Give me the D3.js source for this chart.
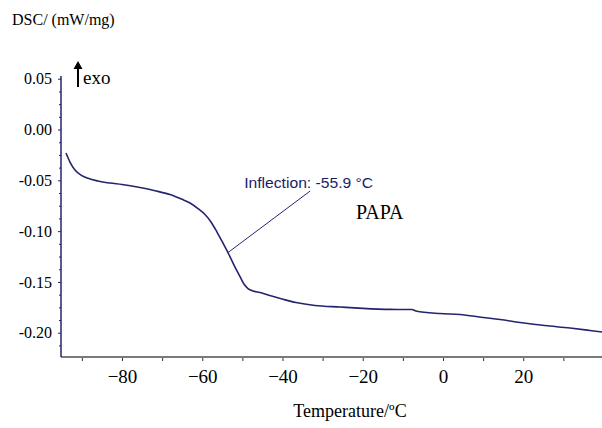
<!DOCTYPE html>
<html>
<head>
<meta charset="utf-8">
<script src="https://cdn.jsdelivr.net/npm/d3@7/dist/d3.min.js"></script>
<style>
  html, body { margin: 0; padding: 0; background: #fff; }
  svg { display: block; }
</style>
</head>
<body>
<svg id="chart" width="602" height="428"></svg>
<script>
// ---- Data ----
const temperature = [
  -93.96, -92.96, -91.71, -90.22, -88.47, -85.98, -82.99, -80.0, -75.51, -71.78,
  -68.04, -65.05, -63.05, -61.06, -59.31, -57.82, -56.32, -54.83, -53.58, -52.09,
  -50.59, -49.60, -48.60, -47.35, -45.61, -43.61, -40.12, -36.64, -31.90,
  -25.67, -19.94, -13.21, -7.73, -6.73, -0.75, 4.24, 9.97, 14.21, 19.19,
  25.42, 31.65, 36.64, 39.63
];
const dsc = [
  -0.0231, -0.0320, -0.0399, -0.0448, -0.0480, -0.0507, -0.0527, -0.0541, -0.0571, -0.0602,
  -0.0640, -0.0687, -0.0723, -0.0778, -0.0837, -0.0910, -0.1009, -0.1117, -0.1211, -0.1334,
  -0.1447, -0.1521, -0.1565, -0.1590, -0.1604, -0.1629, -0.1668, -0.1703, -0.1732,
  -0.1747, -0.1760, -0.1770, -0.1772, -0.1786, -0.1811, -0.1821, -0.1850, -0.1870, -0.1900,
  -0.1929, -0.1954, -0.1978, -0.1993
];
const xTickValues = [-80, -60, -40, -20, 0, 20];
const xMinorTicks = [-90, -70, -50, -30, -10, 10, 30];
const yTickValues = [0.05, 0.00, -0.05, -0.10, -0.15, -0.20];
const yTickLabels = ["0.05", "0.00", "-0.05", "-0.10", "-0.15", "-0.20"];
const yMinorTicks = [0.0375, 0.025, 0.0125, -0.0125, -0.025, -0.0375, -0.0625, -0.075, -0.0875,
  -0.1125, -0.125, -0.1375, -0.1625, -0.175, -0.1875, -0.2125];
const inflection = { label: "Inflection: -55.9 °C", T: -53.58, v: -0.1211, labelT: -33.1, labelV: -0.0605 };
const sampleName = "PAPA";
const yTitle = "DSC/ (mW/mg)";
const xTitle = "Temperature/ºC";
const exoLabel = "exo";

// ---- Layout ----
const svg = d3.select("#chart");
const x = d3.scaleLinear().domain([-95.2, 39.63]).range([61, 602]);
const y = d3.scaleLinear().domain([-0.2239, 0.0527]).range([357, 76]);
const navy = "#24246e";
const serif = "'Liberation Serif', 'Times New Roman', serif";
const sans = "'Liberation Sans', Arial, sans-serif";

// x axis (grey baseline, ticks below)
svg.append("line")
  .attr("x1", x.range()[0]).attr("x2", x.range()[1])
  .attr("y1", 357).attr("y2", 357)
  .attr("stroke", "#7a7a7a").attr("stroke-width", 2);
const xAxis = svg.append("g").attr("transform", "translate(0,358)")
  .call(d3.axisBottom(x).tickValues(xTickValues).tickSize(3).tickPadding(9).tickFormat(d3.format("d")));
xAxis.select(".domain").remove();
xAxis.selectAll(".tick line").attr("stroke", "#333");
xAxis.selectAll("text").attr("font-family", serif).attr("font-size", 19).attr("fill", "#000");
const xMinor = svg.append("g").attr("transform", "translate(0,358)")
  .call(d3.axisBottom(x).tickValues(xMinorTicks).tickSize(3).tickFormat(""));
xMinor.select(".domain").remove();
xMinor.selectAll(".tick line").attr("stroke", "#333");

// y axis (navy line, ticks to the left)
const yAxis = svg.append("g").attr("transform", "translate(61,0)")
  .call(d3.axisLeft(y).tickValues(yTickValues).tickSize(3).tickPadding(6)
    .tickFormat((d, i) => yTickLabels[i]));
yAxis.select(".domain").attr("stroke", navy).attr("stroke-width", 1.5)
  .attr("d", `M0,${y.range()[1]}V${y.range()[0]}`);
yAxis.selectAll(".tick line").attr("stroke", navy);
yAxis.selectAll("text").attr("font-family", serif).attr("font-size", 16).attr("fill", "#000");
const yMinor = svg.append("g").attr("transform", "translate(61,0)")
  .call(d3.axisLeft(y).tickValues(yMinorTicks).tickSize(2).tickFormat(""));
yMinor.select(".domain").remove();
yMinor.selectAll(".tick line").attr("stroke", navy);

// curve
const pts = temperature.map((t, i) => [t, dsc[i]]);
svg.append("path")
  .datum(pts)
  .attr("fill", "none")
  .attr("stroke", navy)
  .attr("stroke-width", 1.6)
  .attr("d", d3.line().x(d => x(d[0])).y(d => y(d[1])).curve(d3.curveMonotoneX));

// inflection annotation
svg.append("line")
  .attr("x1", x(inflection.T)).attr("y1", y(inflection.v))
  .attr("x2", x(inflection.labelT)).attr("y2", y(inflection.labelV))
  .attr("stroke", navy).attr("stroke-width", 1);
svg.append("text")
  .attr("x", x(inflection.labelT) - 66).attr("y", y(inflection.labelV) - 3)
  .attr("font-family", sans).attr("font-size", 15).attr("fill", "#1c1c66")
  .attr("textLength", 129).attr("lengthAdjust", "spacingAndGlyphs")
  .text(inflection.label);

// sample name
svg.append("text")
  .attr("x", 356).attr("y", 219)
  .attr("font-family", serif).attr("font-size", 20).attr("fill", "#000")
  .text(sampleName);

// exo arrow
svg.append("line")
  .attr("x1", 78).attr("x2", 78).attr("y1", 87).attr("y2", 66)
  .attr("stroke", "#000").attr("stroke-width", 2);
svg.append("path")
  .attr("d", "M73.5,69 L78,61 L82.5,69 Z").attr("fill", "#000");
svg.append("text")
  .attr("x", 83).attr("y", 84)
  .attr("font-family", serif).attr("font-size", 19).attr("fill", "#000")
  .text(exoLabel);

// titles
svg.append("text")
  .attr("x", 12).attr("y", 25)
  .attr("font-family", serif).attr("font-size", 16).attr("fill", "#000")
  .text(yTitle);
svg.append("text")
  .attr("x", 350).attr("y", 417).attr("text-anchor", "middle")
  .attr("font-family", serif).attr("font-size", 18).attr("fill", "#000")
  .text(xTitle);
</script>
</body>
</html>
